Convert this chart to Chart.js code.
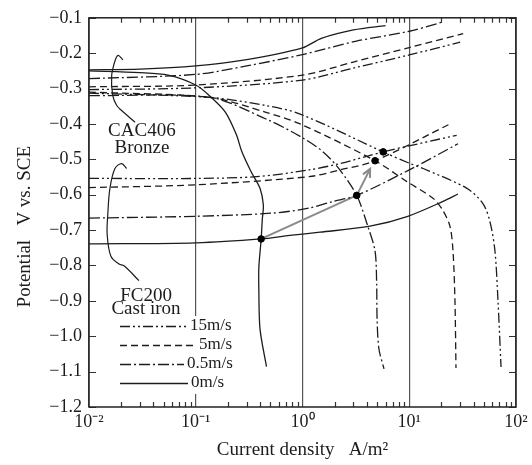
<!DOCTYPE html>
<html>
<head>
  <title>Polarization curves CAC406 / FC200</title>
  <script src="https://cdn.jsdelivr.net/npm/chart.js"></script>
  <style>
    body { margin: 0; background: #fff; }
    #wrap { width: 532px; height: 465px; }
  </style>
</head>
<body>
  <div id="wrap"><canvas id="polChart" width="532" height="465"></canvas></div>
  <script>
    // axis ticks
    const X_TICKS = [0.01, 0.1, 1, 10, 100];
    const X_LABELS = ['10\u207B\u00B2', '10\u207B\u00B9', '10\u2070', '10\u00B9', '10\u00B2'];
    const Y_TICKS = [-0.1, -0.2, -0.3, -0.4, -0.5, -0.6, -0.7, -0.8, -0.9, -1.0, -1.1, -1.2];
    const SPEEDS = ['15m/s', '5m/s', '0.5m/s', '0m/s'];

    // CAC406 bronze, anodic branches (A/m2, V vs SCE)
    const cuAno15X = [0.01, 0.1, 1, 3, 10, 30];
    const cuAno15Y = [-0.303, -0.298, -0.276, -0.242, -0.205, -0.169];
    const cuAno5X = [0.01, 0.1, 1, 3, 10, 32];
    const cuAno5Y = [-0.295, -0.29, -0.262, -0.225, -0.184, -0.145];
    const cuAno05X = [0.01, 0.1, 0.3, 1, 3.2, 10, 20];
    const cuAno05Y = [-0.272, -0.26, -0.236, -0.204, -0.166, -0.138, -0.113];
    const cuAno0X = [0.01, 0.03, 0.1, 0.3, 1, 1.5, 3, 6];
    const cuAno0Y = [-0.247, -0.245, -0.236, -0.218, -0.185, -0.158, -0.134, -0.122];

    // CAC406 bronze, cathodic branches
    const cuCat15X = [0.01, 0.136, 0.455, 0.95, 5.7, 10.2, 13.5, 34.7, 49, 57, 63.5, 67.8, 72.4];
    const cuCat15Y = [-0.313, -0.325, -0.348, -0.372, -0.479, -0.512, -0.526, -0.582, -0.625, -0.676, -0.759, -0.899, -1.087];
    const cuCat5X = [0.01, 0.136, 0.455, 0.95, 4.78, 9.5, 16.7, 20.7, 24.1, 25.7, 26.8, 27.4];
    const cuCat5Y = [-0.31, -0.325, -0.367, -0.40, -0.504, -0.563, -0.61, -0.645, -0.69, -0.76, -0.9, -1.09];
    const cuCat05X = [0.01, 0.136, 0.455, 0.95, 1.56, 2.24, 3.22, 4.1, 4.78, 4.95, 5.0, 5.2, 5.8];
    const cuCat05Y = [-0.32, -0.325, -0.386, -0.435, -0.479, -0.53, -0.602, -0.69, -0.759, -0.85, -0.955, -1.036, -1.092];
    const cuCat0X = [0.01, 0.03, 0.055, 0.1, 0.14, 0.19, 0.24, 0.27, 0.33, 0.40, 0.43, 0.42, 0.41, 0.39, 0.39, 0.40, 0.46];
    const cuCat0Y = [-0.25, -0.255, -0.262, -0.29, -0.325, -0.367, -0.43, -0.478, -0.535, -0.582, -0.63, -0.67, -0.725, -0.806, -0.87, -0.98, -1.086];

    // FC200 cast iron, anodic branches
    const feAno15X = [0.01, 0.1, 0.37, 1.15, 2.24, 5.7, 27.8];
    const feAno15Y = [-0.554, -0.554, -0.549, -0.53, -0.512, -0.479, -0.432];
    const feAno5X = [0.01, 0.1, 1.15, 2.24, 4.78, 24.1];
    const feAno5Y = [-0.58, -0.572, -0.549, -0.53, -0.504, -0.40];
    const feAno05X = [0.01, 0.1, 0.52, 1.15, 1.93, 3.22, 10, 28.6];
    const feAno05Y = [-0.666, -0.661, -0.652, -0.638, -0.619, -0.602, -0.53, -0.456];
    const feAno0X = [0.01, 0.1, 0.41, 0.76, 1.46, 4.29, 9.7, 20.7, 28.6];
    const feAno0Y = [-0.739, -0.736, -0.725, -0.715, -0.706, -0.689, -0.661, -0.619, -0.598];

    // galvanic couple points and the shift between them
    const dotX = [0.41, 3.22, 4.78, 5.7];
    const dotY = [-0.725, -0.602, -0.504, -0.479];
    const linkX = [0.41, 3.22];
    const linkY = [-0.725, -0.602];
    const arrowX = [3.22, 4.3];
    const arrowY = [-0.602, -0.527];

    // brackets pointing at the labels
    const brCuX = [0.0208, 0.0187, 0.0175, 0.0163, 0.0167, 0.0182, 0.0202, 0.027];
    const brCuY = [-0.219, -0.206, -0.222, -0.264, -0.32, -0.348, -0.362, -0.395];
    const brFeX = [0.0225, 0.0202, 0.0175, 0.0157, 0.0150, 0.0148, 0.0160, 0.0191, 0.0213, 0.0294];
    const brFeY = [-0.526, -0.512, -0.526, -0.582, -0.656, -0.712, -0.773, -0.796, -0.801, -0.843];

    const INK = '#1c1c1c';
    const SERIF = '"Liberation Serif", "Times New Roman", serif';
    const DASH = [[10, 3, 2, 3, 2, 3], [7, 4], [11, 3, 2, 3], []];

    const pts = (xs, ys) => xs.map((x, i) => ({ x: x, y: ys[i] }));

    const curves = [
      [cuAno15X, cuAno15Y, 0], [cuAno5X, cuAno5Y, 1], [cuAno05X, cuAno05Y, 2], [cuAno0X, cuAno0Y, 3],
      [cuCat15X, cuCat15Y, 0], [cuCat5X, cuCat5Y, 1], [cuCat05X, cuCat05Y, 2], [cuCat0X, cuCat0Y, 3],
      [feAno15X, feAno15Y, 0], [feAno5X, feAno5Y, 1], [feAno05X, feAno05Y, 2], [feAno0X, feAno0Y, 3]
    ];

    const datasets = [{
      label: 'couple', data: pts(dotX, dotY), showLine: false,
      pointRadius: 3.3, pointBackgroundColor: '#000', pointBorderColor: '#000'
    }];
    curves.forEach(c => {
      datasets.push({
        label: SPEEDS[c[2]], data: pts(c[0], c[1]), showLine: true,
        borderColor: INK, borderWidth: 1.3, borderDash: DASH[c[2]],
        pointRadius: 0, tension: 0.3, fill: false
      });
    });
    datasets.push({ label: 'link', data: pts(linkX, linkY), showLine: true, borderColor: '#8a8a8a', borderWidth: 2, pointRadius: 0 });
    datasets.push({ label: 'arrow', data: pts(arrowX, arrowY), showLine: true, borderColor: '#8a8a8a', borderWidth: 2, pointRadius: 0 });
    datasets.push({ label: 'brCu', data: pts(brCuX, brCuY), showLine: true, borderColor: INK, borderWidth: 1.2, pointRadius: 0, tension: 0.35 });
    datasets.push({ label: 'brFe', data: pts(brFeX, brFeY), showLine: true, borderColor: INK, borderWidth: 1.2, pointRadius: 0, tension: 0.35 });

    const decor = {
      id: 'decor',
      beforeDatasetsDraw(chart) {
        const { ctx, chartArea: a, scales: { x, y } } = chart;
        ctx.save();
        ctx.strokeStyle = '#333';
        ctx.lineWidth = 1.2;
        ctx.beginPath();
        for (let d = -2; d < 2; d++) {
          for (let m = 2; m <= 9; m++) {
            const px = Math.round(x.getPixelForValue(m * Math.pow(10, d))) + 0.5;
            ctx.moveTo(px, a.bottom); ctx.lineTo(px, a.bottom - 5);
            ctx.moveTo(px, a.top); ctx.lineTo(px, a.top + 5);
          }
        }
        Y_TICKS.forEach(v => {
          const py = Math.round(y.getPixelForValue(v)) + 0.5;
          ctx.moveTo(a.left, py); ctx.lineTo(a.left + 7, py);
          ctx.moveTo(a.right, py); ctx.lineTo(a.right - 7, py);
        });
        ctx.stroke();
        ctx.restore();
      },
      afterDatasetsDraw(chart) {
        const { ctx, chartArea: a, scales: { x, y } } = chart;
        ctx.save();
        // frame
        ctx.strokeStyle = '#222';
        ctx.lineWidth = 1.5;
        ctx.strokeRect(a.left, a.top, a.right - a.left, a.bottom - a.top);

        // arrow head
        const x0 = x.getPixelForValue(arrowX[0]), y0 = y.getPixelForValue(arrowY[0]);
        const x1 = x.getPixelForValue(arrowX[1]), y1 = y.getPixelForValue(arrowY[1]);
        const ang = Math.atan2(y1 - y0, x1 - x0);
        ctx.strokeStyle = '#8a8a8a';
        ctx.lineWidth = 2;
        ctx.beginPath();
        ctx.moveTo(x1 - 9 * Math.cos(ang - 0.45), y1 - 9 * Math.sin(ang - 0.45));
        ctx.lineTo(x1, y1);
        ctx.lineTo(x1 - 9 * Math.cos(ang + 0.45), y1 - 9 * Math.sin(ang + 0.45));
        ctx.stroke();

        // material labels
        ctx.fillStyle = INK;
        ctx.font = '19px ' + SERIF;
        ctx.textAlign = 'center';
        ctx.textBaseline = 'middle';
        ctx.fillText('CAC406', x.getPixelForValue(0.0313), y.getPixelForValue(-0.42));
        ctx.fillText('Bronze', x.getPixelForValue(0.0313), y.getPixelForValue(-0.468));
        ctx.fillText('FC200', x.getPixelForValue(0.0342), y.getPixelForValue(-0.885));
        ctx.fillText('Cast iron', x.getPixelForValue(0.0342), y.getPixelForValue(-0.922));

        // legend
        ctx.fillStyle = '#fff';
        ctx.fillRect(186, 316, 50, 78);
        const rows = [326, 345, 364, 383];
        const textX = [190, 199, 187, 191];
        ctx.strokeStyle = INK;
        ctx.lineWidth = 1.3;
        ctx.fillStyle = INK;
        ctx.font = '17px ' + SERIF;
        ctx.textAlign = 'left';
        SPEEDS.forEach((s, i) => {
          ctx.setLineDash(DASH[i]);
          ctx.beginPath();
          ctx.moveTo(120, rows[i] + 0.5);
          ctx.lineTo(textX[i] - 3, rows[i] + 0.5);
          ctx.stroke();
          ctx.setLineDash([]);
          ctx.fillText(s, textX[i], rows[i]);
        });
        ctx.restore();
      }
    };

    new Chart(document.getElementById('polChart'), {
      type: 'scatter',
      data: { datasets },
      plugins: [decor],
      options: {
        responsive: false,
        animation: false,
        layout: { padding: { top: 15, right: 16, left: 0, bottom: 0 } },
        plugins: { legend: { display: false }, tooltip: { enabled: false } },
        scales: {
          x: {
            type: 'logarithmic', min: 0.01, max: 100,
            afterBuildTicks: s => { s.ticks = X_TICKS.map(v => ({ value: v })); },
            afterFit: s => { s.height = 58; },
            grid: { color: '#555', lineWidth: 1.2, drawTicks: false },
            border: { display: false },
            ticks: {
              autoSkip: false, maxRotation: 0, padding: 4, color: INK,
              font: { family: SERIF, size: 18 },
              callback: v => X_LABELS[X_TICKS.indexOf(v)]
            },
            title: {
              display: true, text: 'Current density   A/m\u00B2', color: INK,
              font: { family: SERIF, size: 19 }, padding: { top: 0, bottom: 4 }
            }
          },
          y: {
            type: 'linear', min: -1.2, max: -0.1,
            afterBuildTicks: s => { s.ticks = Y_TICKS.map(v => ({ value: v })); },
            afterFit: s => { s.width = 89; },
            grid: { display: false, drawTicks: false },
            border: { display: false },
            ticks: {
              padding: 7, color: INK, font: { family: SERIF, size: 18 },
              callback: v => '\u2212' + Math.abs(v).toFixed(1)
            },
            title: {
              display: true, text: 'Potential   V vs. SCE      ', color: INK,
              font: { family: SERIF, size: 19 }, padding: { top: 14, bottom: 0 }
            }
          }
        }
      }
    });
  </script>
</body>
</html>
